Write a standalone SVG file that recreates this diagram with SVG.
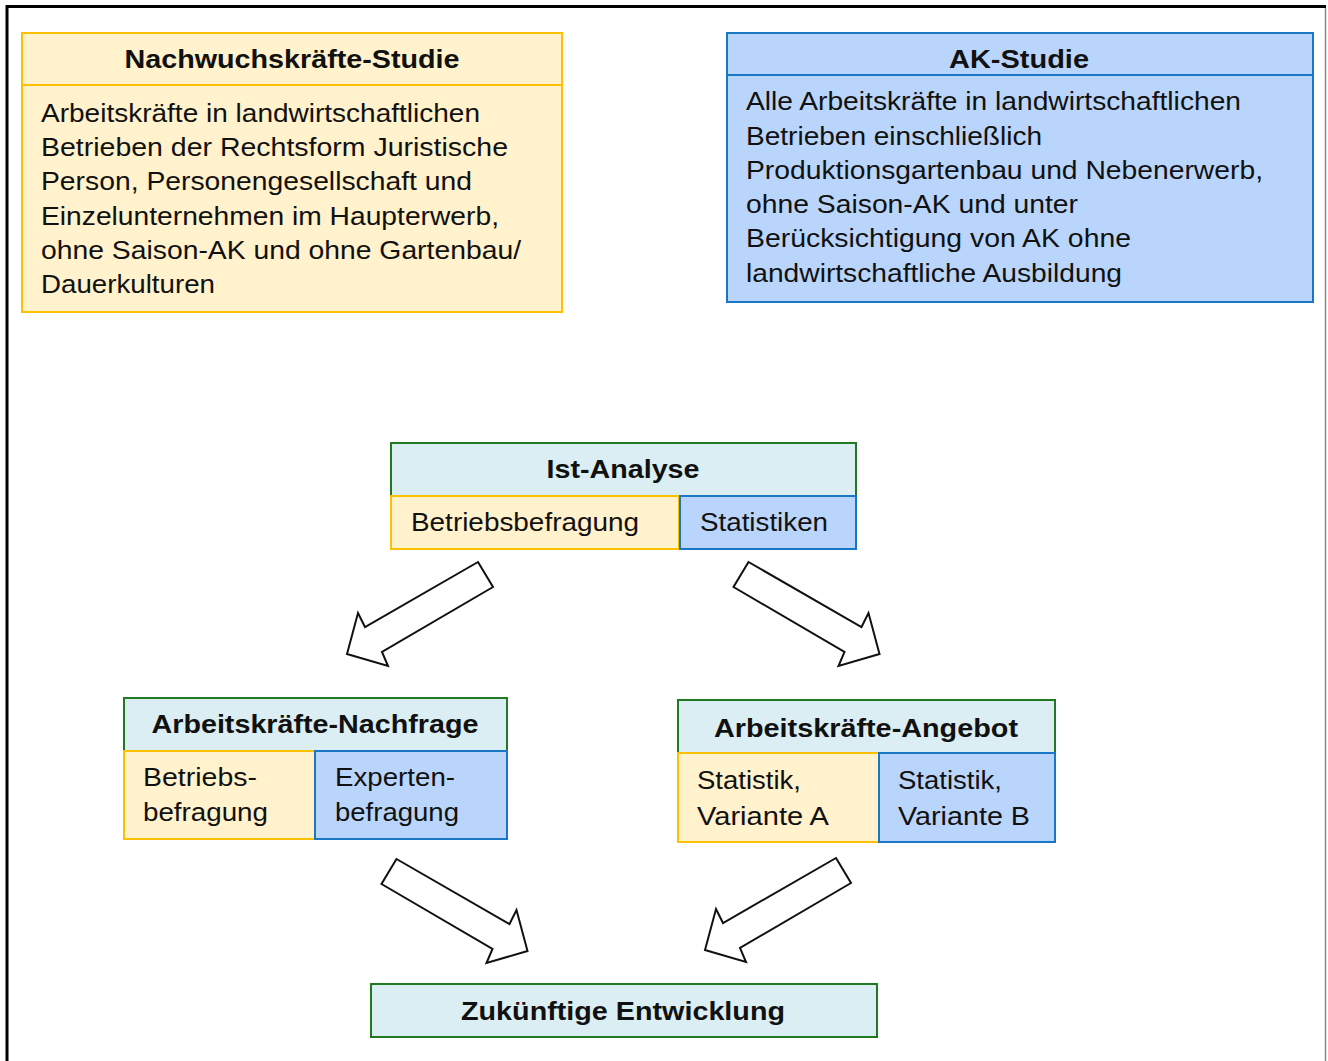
<svg xmlns="http://www.w3.org/2000/svg" width="1328" height="1061" viewBox="0 0 1328 1061">
<style>
text{font-family:"Liberation Sans",Arial,sans-serif;fill:#111;}
.t{font-size:26px;font-weight:bold;}
.b{font-size:26px;}
.y{fill:#FFF2CC;stroke:#FFC000;stroke-width:2;}
.bl{fill:#BAD5FB;stroke:#1A76C6;stroke-width:2;}
.g{fill:#DAEEF3;stroke:#217A21;stroke-width:2;}
.arr{fill:#fff;stroke:#111;stroke-width:2;stroke-linejoin:miter;}
</style>
<defs>
<polygon id="arrL" points="478,562 493,587 382,652 388,666 347,654 358,613 365,627"/>
<polygon id="arrR" points="748.5,562 733.5,587 844.5,652 838.5,666 879.5,654 868.5,613 861.5,627"/>
</defs>
<rect width="1328" height="1061" fill="#fff"/>
<g id="frame">
<line x1="7" y1="6.5" x2="1326" y2="6.5" stroke="#000" stroke-width="3"/>
<line x1="7" y1="5" x2="7" y2="1061" stroke="#000" stroke-width="3"/>
<line x1="1325.5" y1="8" x2="1325.5" y2="1061" stroke="#888" stroke-width="1.5"/>
</g>
<g id="nachwuchs">
<rect class="y" x="22" y="33" width="540" height="279"/>
<line x1="22" y1="85" x2="562" y2="85" stroke="#FFC000" stroke-width="2"/>
<text class="t" x="292" y="68" text-anchor="middle" textLength="335" lengthAdjust="spacingAndGlyphs">Nachwuchskräfte-Studie</text>
<text class="b" x="41" y="122" textLength="439" lengthAdjust="spacingAndGlyphs">Arbeitskräfte in landwirtschaftlichen</text>
<text class="b" x="41" y="156" textLength="467" lengthAdjust="spacingAndGlyphs">Betrieben der Rechtsform Juristische</text>
<text class="b" x="41" y="190" textLength="431" lengthAdjust="spacingAndGlyphs">Person, Personengesellschaft und</text>
<text class="b" x="41" y="225" textLength="458" lengthAdjust="spacingAndGlyphs">Einzelunternehmen  im Haupterwerb,</text>
<text class="b" x="41" y="259" textLength="480" lengthAdjust="spacingAndGlyphs">ohne Saison-AK und ohne Gartenbau/</text>
<text class="b" x="41" y="293" textLength="174" lengthAdjust="spacingAndGlyphs">Dauerkulturen</text>
</g>
<g id="akstudie">
<rect class="bl" x="727" y="33" width="586" height="269"/>
<line x1="727" y1="75" x2="1313" y2="75" stroke="#1A76C6" stroke-width="2"/>
<text class="t" x="1019" y="68" text-anchor="middle" textLength="140" lengthAdjust="spacingAndGlyphs">AK-Studie</text>
<text class="b" x="746" y="110" textLength="495" lengthAdjust="spacingAndGlyphs">Alle  Arbeitskräfte in landwirtschaftlichen</text>
<text class="b" x="746" y="145" textLength="296" lengthAdjust="spacingAndGlyphs">Betrieben einschließlich</text>
<text class="b" x="746" y="179" textLength="517" lengthAdjust="spacingAndGlyphs">Produktionsgartenbau  und  Nebenerwerb,</text>
<text class="b" x="746" y="213" textLength="332" lengthAdjust="spacingAndGlyphs">ohne Saison-AK und unter</text>
<text class="b" x="746" y="247" textLength="385" lengthAdjust="spacingAndGlyphs">Berücksichtigung  von AK ohne</text>
<text class="b" x="746" y="282" textLength="376" lengthAdjust="spacingAndGlyphs">landwirtschaftliche  Ausbildung</text>
</g>
<g id="ist">
<rect class="g" x="391" y="443" width="465" height="53"/>
<text class="t" x="623" y="478" text-anchor="middle" textLength="153" lengthAdjust="spacingAndGlyphs">Ist-Analyse</text>
<rect class="y" x="391" y="496" width="288" height="53"/>
<rect class="bl" x="680" y="496" width="176" height="53"/>
<text class="b" x="411" y="531" textLength="228" lengthAdjust="spacingAndGlyphs">Betriebsbefragung</text>
<text class="b" x="700" y="531" textLength="128" lengthAdjust="spacingAndGlyphs">Statistiken</text>
</g>
<g id="nachfrage">
<rect class="g" x="124" y="698" width="383" height="53"/>
<text class="t" x="315" y="733" text-anchor="middle" textLength="327" lengthAdjust="spacingAndGlyphs">Arbeitskräfte-Nachfrage</text>
<rect class="y" x="124" y="751" width="191" height="88"/>
<rect class="bl" x="315" y="751" width="192" height="88"/>
<text class="b" x="143" y="786" textLength="114" lengthAdjust="spacingAndGlyphs">Betriebs-</text>
<text class="b" x="143" y="821" textLength="125" lengthAdjust="spacingAndGlyphs">befragung</text>
<text class="b" x="335" y="786" textLength="120" lengthAdjust="spacingAndGlyphs">Experten-</text>
<text class="b" x="335" y="821" textLength="124" lengthAdjust="spacingAndGlyphs">befragung</text>
</g>
<g id="angebot">
<rect class="g" x="678" y="700" width="377" height="53"/>
<text class="t" x="866" y="737" text-anchor="middle" textLength="304" lengthAdjust="spacingAndGlyphs">Arbeitskräfte-Angebot</text>
<rect class="y" x="678" y="753" width="201" height="89"/>
<rect class="bl" x="879" y="753" width="176" height="89"/>
<text class="b" x="697" y="789" textLength="104" lengthAdjust="spacingAndGlyphs">Statistik,</text>
<text class="b" x="697" y="825" textLength="132" lengthAdjust="spacingAndGlyphs">Variante A</text>
<text class="b" x="898" y="789" textLength="104" lengthAdjust="spacingAndGlyphs">Statistik,</text>
<text class="b" x="898" y="825" textLength="132" lengthAdjust="spacingAndGlyphs">Variante B</text>
</g>
<g id="zukunft">
<rect class="g" x="371" y="984" width="506" height="53"/>
<text class="t" x="623" y="1020" text-anchor="middle" textLength="324" lengthAdjust="spacingAndGlyphs">Zukünftige Entwicklung</text>
</g>
<g id="connectors">
<use href="#arrL" class="arr"/>
<use href="#arrR" class="arr"/>
<use href="#arrR" class="arr" transform="translate(-352,297)"/>
<use href="#arrL" class="arr" transform="translate(358,296)"/>
</g>
</svg>
